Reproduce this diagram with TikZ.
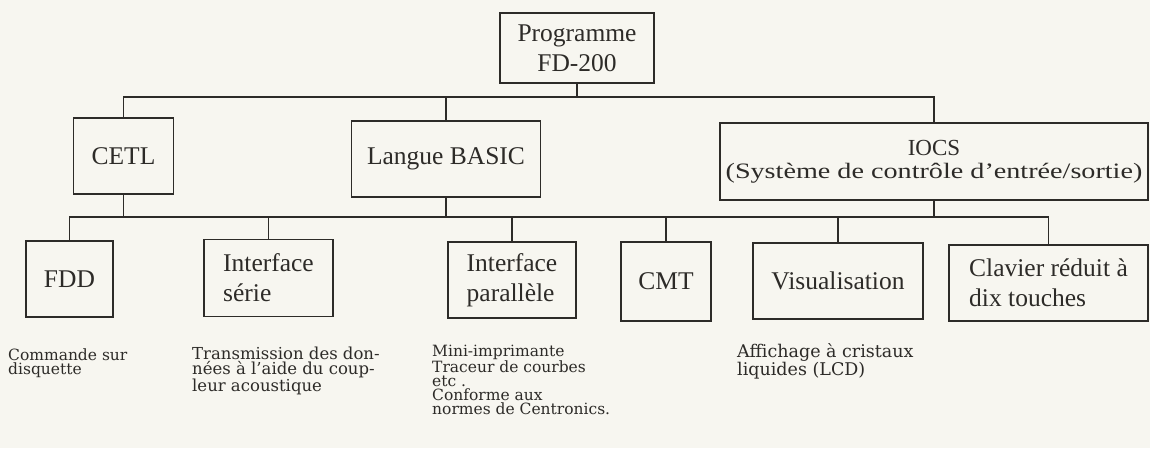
\documentclass[tikz,border=0pt]{standalone}
\usepackage{fontspec}
\setmainfont{Liberation Serif}
\newfontfamily\lblfont{DejaVu Serif}
\newfontfamily\widefont[FakeStretch=1.28]{Liberation Serif}
\definecolor{ink}{RGB}{45,43,40}
\definecolor{paper}{RGB}{247,246,240}
\newcommand{\firststrut}{\rule{0pt}{14pt}}
\begin{document}
\begin{tikzpicture}[x=1pt,y=-1pt,
  box/.style={draw=ink, line width=1.6pt, text=ink, inner sep=0pt,
              font=\fontsize{25.5}{30}\selectfont, align=center},
  link/.style={draw=ink, line width=1.6pt},
  lbl/.style={anchor=north west, inner sep=0pt, text=ink, align=left}]
\useasboundingbox (0,0) rectangle (1150,448);
\fill[paper] (0,0) rectangle (1150,448);

% level 0
\node[box, minimum width=154pt, minimum height=70pt] (prog) at (577,48) {Programme\\FD-200};

% level 1
\node[box, minimum width=100pt, minimum height=76pt] (cetl) at (123.5,156) {CETL};
\node[box, minimum width=189pt, minimum height=76pt] (basic) at (446,159) {Langue BASIC};
\node[box, minimum width=428pt, minimum height=77pt, font=\fontsize{23}{23}\selectfont] (iocs) at (934,161.5)
  {IOCS\\{\widefont\fontsize{22}{23}\selectfont (Système de contrôle d’entrée/sortie)}};

% level 2
\node[box, minimum width=87pt, minimum height=76pt] (fdd) at (69.5,279) {FDD};
\node[box, minimum width=129pt, minimum height=77pt, align=left] (serie) at (268.5,278) {Interface\\série};
\node[box, minimum width=128pt, minimum height=76pt, align=left] (para) at (512,280) {Interface\\parallèle};
\node[box, minimum width=90pt, minimum height=79pt] (cmt) at (666,281.5) {CMT};
\node[box, minimum width=170pt, minimum height=76pt] (visu) at (838,281) {Visualisation};
\node[box, minimum width=199pt, minimum height=76pt, align=left] (clav) at (1048.5,283) {Clavier réduit à\\dix touches};

% bus lines
\coordinate (b1) at (0,97);
\coordinate (b2) at (0,217);

\draw[link] (prog.south) -- (prog.south |- b1);
\draw[link] (cetl.north) -- (cetl.north |- b1) -- (iocs.north |- b1) -- (iocs.north);
\draw[link] (basic.north) -- (basic.north |- b1);

\draw[link] (fdd.north) -- (fdd.north |- b2) -- (clav.north |- b2) -- (clav.north);
\draw[link] (cetl.south) -- (cetl.south |- b2);
\draw[link] (basic.south) -- (basic.south |- b2);
\draw[link] (iocs.south) -- (iocs.south |- b2);
\draw[link] (serie.north) -- (serie.north |- b2);
\draw[link] (para.north) -- (para.north |- b2);
\draw[link] (cmt.north) -- (cmt.north |- b2);
\draw[link] (visu.north) -- (visu.north |- b2);

% descriptions
\node[lbl, font=\lblfont\fontsize{15.5}{14.5}\selectfont] (dfdd) at (8,346)
  {\firststrut Commande sur\\disquette};
\node[lbl, font=\lblfont\fontsize{16.5}{15}\selectfont] (dserie) at (192,345)
  {\firststrut Transmission des don-\\nées à l’aide du coup-\\leur acoustique};
\node[lbl, font=\lblfont\fontsize{15.5}{14.2}\selectfont] (dpara) at (432,342)
  {\firststrut Mini-imprimante\\Traceur de courbes\\etc .\\Conforme aux\\normes de Centronics.};
\node[lbl, font=\lblfont\fontsize{17.5}{14}\selectfont] (dvisu) at (737,343)
  {\firststrut Affichage à cristaux\\liquides (LCD)};
\end{tikzpicture}
\end{document}
